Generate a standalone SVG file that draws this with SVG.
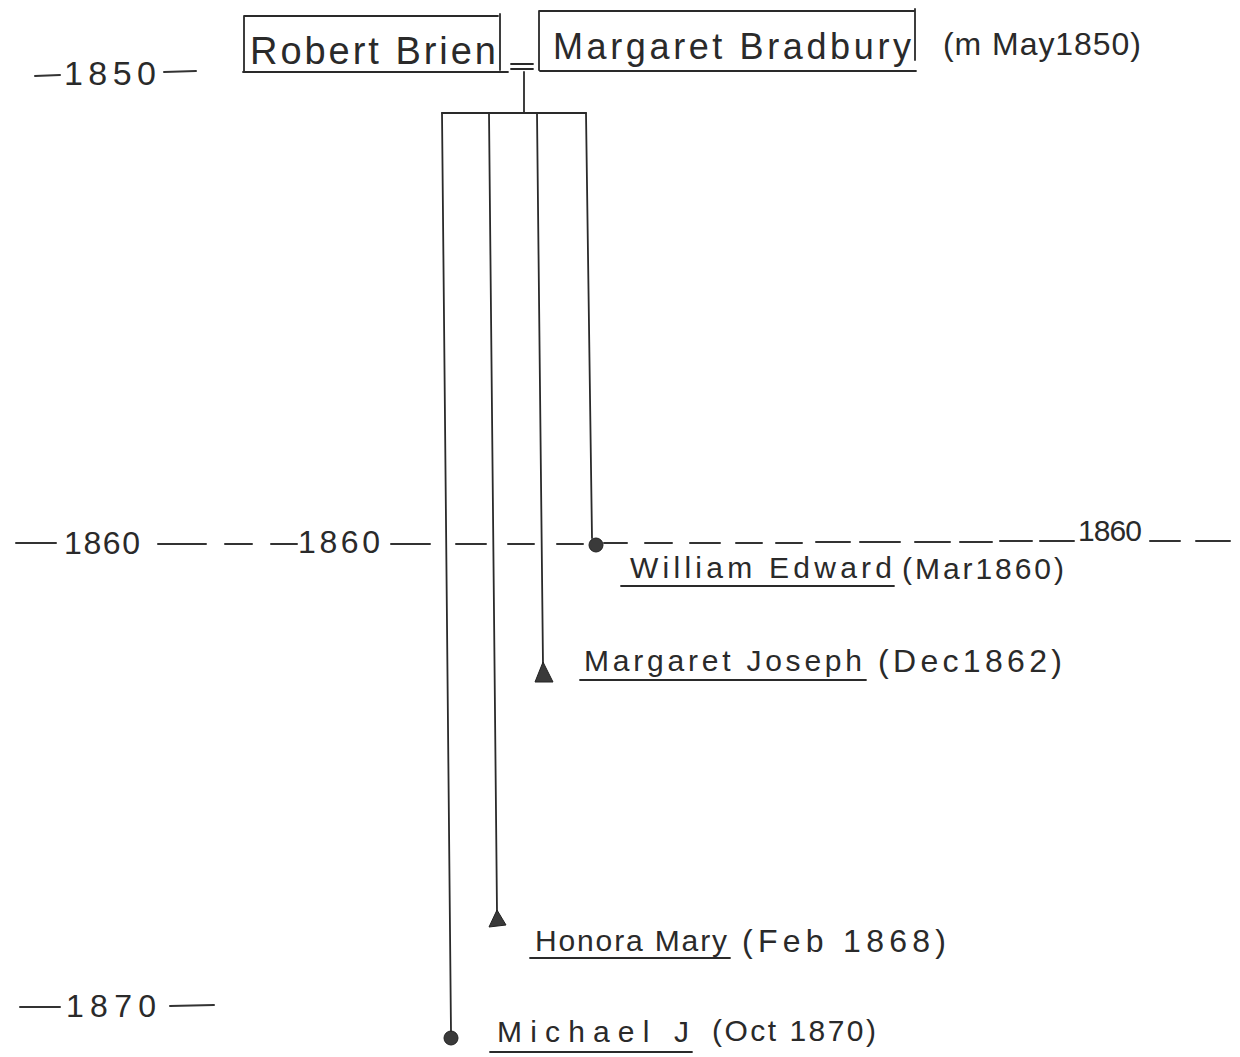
<svg xmlns="http://www.w3.org/2000/svg" width="1240" height="1057" viewBox="0 0 1240 1057">
<style>
  text { font-family: "Liberation Sans", "DejaVu Sans", sans-serif; fill: #2a2a2a; }
  .ln { stroke: #2a2a2a; stroke-width: 1.8; fill: none; stroke-linecap: round; }
  .tk { stroke: #333; stroke-width: 2; fill: none; stroke-linecap: round; }
  .mk { fill: #3a3a3a; stroke: #222; stroke-width: 1; }
</style>
<rect width="1240" height="1057" fill="#ffffff"/>

<g id="timeline">
  <line class="tk" x1="35" y1="76" x2="60" y2="75"/>
  <text x="64" y="85" font-size="34" textLength="92" lengthAdjust="spacing">1850</text>
  <line class="tk" x1="164" y1="72" x2="196" y2="71"/>

  <line class="tk" x1="16" y1="543" x2="56" y2="543"/>
  <text x="64" y="554" font-size="32" textLength="76" lengthAdjust="spacing">1860</text>
  <path class="tk" d="M158 544H206 M225 544H252 M271 544H297"/>
  <text x="298" y="553" font-size="32" textLength="82" lengthAdjust="spacing">1860</text>
  <path class="tk" d="M391 544H430 M456 544H486 M508 544H534 M557 544H583 M604 543H627 M645 543H672 M690 543H720 M736 543H762 M776 543H802 M816 542H850 M860 542H900 M915 542H950 M960 542H992 M1000 541H1032 M1040 541H1074"/>
  <text x="1078" y="541" font-size="30" textLength="64" lengthAdjust="spacing">1860</text>
  <path class="tk" d="M1150 541H1180 M1196 541H1230"/>

  <line class="tk" x1="20" y1="1007" x2="60" y2="1007"/>
  <text x="66" y="1017" font-size="32" textLength="90" lengthAdjust="spacing">1870</text>
  <line class="tk" x1="170" y1="1006" x2="214" y2="1005"/>
</g>

<g id="robert-brien">
  <path class="ln" d="M244 16H498 M244 16V72 M500 14V70 M243 72H508"/>
  <text x="250" y="64" font-size="38" textLength="246" lengthAdjust="spacing">Robert Brien</text>
</g>

<g id="margaret-bradbury">
  <path class="ln" d="M539 11H914 M539 11V70 M915 9V60 M540 71H916"/>
  <text x="553" y="59" font-size="36" textLength="358" lengthAdjust="spacing">Margaret Bradbury</text>
  <text x="943" y="55" font-size="32" textLength="198" lengthAdjust="spacing">(m May1850)</text>
</g>

<g id="connectors">
  <path class="ln" d="M511 64H533 M511 69H533"/>
  <path class="ln" d="M524 72V113"/>
  <path class="ln" d="M442 113H586"/>
  <path class="ln" d="M442 113L451 1032"/>
  <path class="ln" d="M489 113L497 912"/>
  <path class="ln" d="M537 113L543 664"/>
  <path class="ln" d="M586 113L592 538"/>
</g>

<g id="william-edward">
  <circle class="mk" cx="596" cy="545" r="7"/>
  <text x="630" y="578" font-size="30" textLength="262" lengthAdjust="spacing">William Edward</text>
  <line class="ln" x1="621" y1="586" x2="894" y2="586"/>
  <text x="902" y="579" font-size="30" textLength="162" lengthAdjust="spacing">(Mar1860)</text>
</g>

<g id="margaret-joseph">
  <polygon class="mk" points="543,662 535,682 553,682"/>
  <text x="584" y="671" font-size="30" textLength="278" lengthAdjust="spacing">Margaret Joseph</text>
  <line class="ln" x1="580" y1="680" x2="866" y2="680"/>
  <text x="878" y="672" font-size="32" textLength="184" lengthAdjust="spacing">(Dec1862)</text>
</g>

<g id="honora-mary">
  <polygon class="mk" points="497,910 489,927 506,925"/>
  <text x="535" y="951" font-size="30" textLength="192" lengthAdjust="spacing">Honora Mary</text>
  <line class="ln" x1="530" y1="958" x2="730" y2="958"/>
  <text x="742" y="952" font-size="32" textLength="204" lengthAdjust="spacing">(Feb 1868)</text>
</g>

<g id="michael-j">
  <circle class="mk" cx="451" cy="1038" r="7"/>
  <text x="497" y="1042" font-size="30" textLength="192" lengthAdjust="spacing">Michael J</text>
  <line class="ln" x1="490" y1="1052" x2="692" y2="1052"/>
  <text x="712" y="1041" font-size="30" textLength="164" lengthAdjust="spacing">(Oct 1870)</text>
</g>
</svg>
